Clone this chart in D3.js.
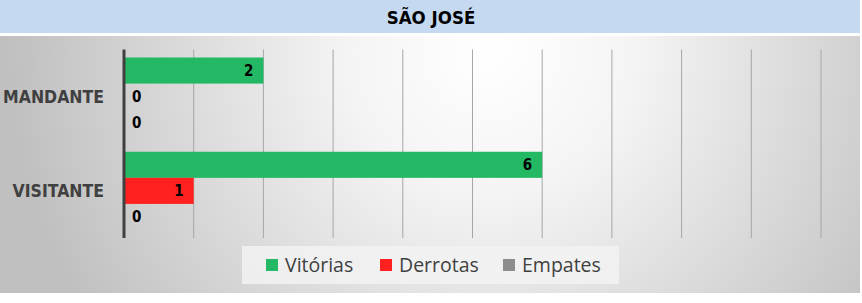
<!DOCTYPE html>
<html lang="pt">
<head>
<meta charset="UTF-8">
<title>São José</title>
<script src="https://cdn.jsdelivr.net/npm/d3@7"></script>
<style>
  html, body { margin: 0; padding: 0; background: #fff; }
  svg { display: block; }
</style>
</head>
<body>
<svg id="chart" width="862" height="303"></svg>
<script>
    const categories = ["MANDANTE", "VISITANTE"];
    const series = ["Vitórias", "Derrotas", "Empates"];
    const colors = ["#22b864", "#ff2020", "#8c8c8c"];
    const vitorias = [2, 6];
    const derrotas = [0, 1];
    const empates = [0, 0];
    const xTicks = d3.range(0, 11);

    const values = [vitorias, derrotas, empates];
    const svg = d3.select("#chart");
    const condensed = "'DejaVu Sans Condensed', 'DejaVu Sans', sans-serif";

    const defs = svg.append("defs");
    const grad = defs.append("radialGradient")
        .attr("id", "bg")
        .attr("gradientUnits", "userSpaceOnUse")
        .attr("cx", 490).attr("cy", 50).attr("r", 480)
        .attr("fx", 490).attr("fy", 50);
    grad.append("stop").attr("offset", "0%").attr("stop-color", "#ffffff");
    grad.append("stop").attr("offset", "30%").attr("stop-color", "#f4f4f4");
    grad.append("stop").attr("offset", "100%").attr("stop-color", "#c0c0c0");

    // title band
    svg.append("rect").attr("x", 0).attr("y", 0).attr("width", 860).attr("height", 33)
        .attr("fill", "#c5d9f1");
    svg.append("text")
        .attr("x", 431).attr("y", 24)
        .attr("text-anchor", "middle")
        .attr("font-family", condensed)
        .attr("font-weight", "bold")
        .attr("font-size", 18.5)
        .attr("fill", "#000")
        .text("SÃO JOSÉ");

    // chart area
    svg.append("rect").attr("x", 0).attr("y", 36).attr("width", 860).attr("height", 257)
        .attr("fill", "url(#bg)");

    const x = d3.scaleLinear().domain([0, 10]).range([124, 821]);
    const y0 = d3.scaleBand().domain(categories).range([49.5, 238]).paddingInner(0.17).paddingOuter(0.085);
    const y1 = d3.scaleBand().domain(series).range([0, y0.bandwidth()]);

    // gridlines
    svg.append("g")
        .selectAll("line")
        .data(xTicks.slice(1))
        .join("line")
        .attr("x1", d => x(d)).attr("x2", d => x(d))
        .attr("y1", 49.5).attr("y2", 238)
        .attr("stroke", "#a6a6a6").attr("stroke-width", 1);

    // bars
    const groups = svg.append("g")
        .selectAll("g")
        .data(categories)
        .join("g")
        .attr("transform", d => `translate(0,${y0(d)})`);

    groups.each(function(cat, ci) {
        const g = d3.select(this);
        series.forEach((s, si) => {
            const v = values[si][ci];
            g.append("rect")
                .attr("x", x(0)).attr("y", y1(s))
                .attr("width", x(v) - x(0)).attr("height", y1.bandwidth())
                .attr("fill", colors[si]);
            const t = g.append("text")
                .attr("y", y1(s) + y1.bandwidth() / 2 + 5.5)
                .attr("font-family", condensed)
                .attr("font-weight", "bold")
                .attr("font-size", 15)
                .attr("fill", "#000")
                .text(v);
            if (v > 0) t.attr("x", x(v) - 10).attr("text-anchor", "end");
            else t.attr("x", x(0) + 8).attr("text-anchor", "start");
        });
    });

    // axis line
    svg.append("line")
        .attr("x1", x(0)).attr("x2", x(0))
        .attr("y1", 49.5).attr("y2", 238)
        .attr("stroke", "#404040").attr("stroke-width", 3);

    // category labels
    svg.append("g")
        .selectAll("text")
        .data(categories)
        .join("text")
        .attr("x", 104)
        .attr("y", d => y0(d) + y0.bandwidth() / 2 + 6.5)
        .attr("text-anchor", "end")
        .attr("font-family", condensed)
        .attr("font-weight", "bold")
        .attr("font-size", 17.5)
        .attr("fill", "#404040")
        .text(d => d);

    // legend
    const lg = svg.append("g");
    lg.append("rect").attr("x", 242).attr("y", 246).attr("width", 377).attr("height", 38)
        .attr("fill", "#f2f2f2").attr("fill-opacity", 0.85);
    const legendX = [266, 380, 503];
    const items = lg.selectAll("g").data(series).join("g")
        .attr("transform", (d, i) => `translate(${legendX[i]},259)`);
    items.append("rect").attr("width", 12).attr("height", 12)
        .attr("fill", (d, i) => colors[i]);
    items.append("text")
        .attr("x", 19).attr("y", 13)
        .attr("font-family", "'Open Sans', 'DejaVu Sans', sans-serif")
        .attr("font-size", 19.5)
        .attr("fill", "#404040")
        .text(d => d);
</script>
</body>
</html>
